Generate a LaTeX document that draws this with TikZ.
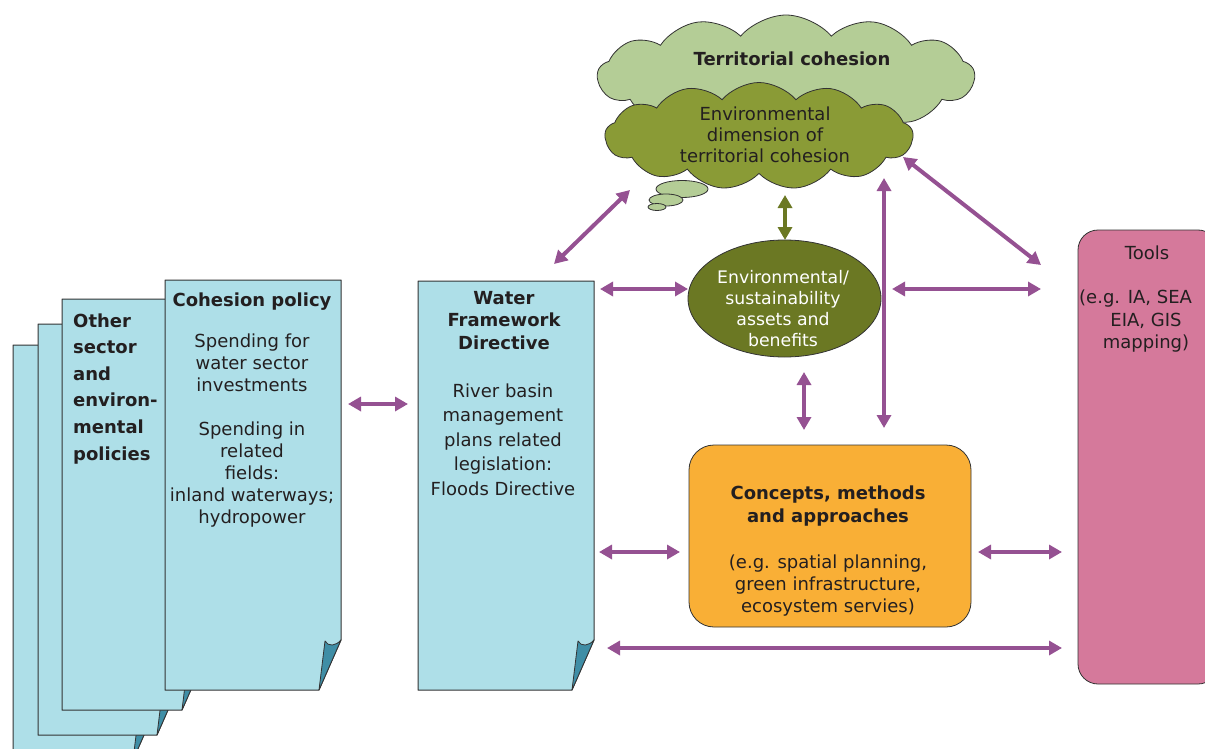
\documentclass[tikz,border=0pt]{standalone}
\usepackage{fontspec}
\setmainfont{DejaVu Sans}
\usetikzlibrary{shapes.symbols,shapes.geometric,arrows.meta}
\definecolor{pagefill}{HTML}{AEDFE8}
\definecolor{flapfill}{HTML}{3F8EA6}
\definecolor{lightcloud}{HTML}{B4CD96}
\definecolor{darkcloud}{HTML}{8A9B36}
\definecolor{olivefill}{HTML}{6B7823}
\definecolor{purp}{HTML}{955192}
\definecolor{orng}{HTML}{F9AF36}
\definecolor{pinkfill}{HTML}{D5799B}
\definecolor{txt}{HTML}{231F20}
\definecolor{edgecol}{HTML}{333333}
\newcommand\docpage[5]{%
  \filldraw[fill=pagefill,draw=edgecol,line width=1pt,line join=round]
    (#2,#3) -- (#4,#3) -- (#4,#5-50) -- (#4-22,#5) -- (#2,#5) -- cycle;
  \filldraw[fill=flapfill,draw=edgecol,line width=0.8pt,line join=round]
    (#4-22,#5) -- (#4-16,#5-49) .. controls (#4-13,#5-43) and (#4-5,#5-44) .. (#4,#5-50) -- cycle;
  \node[inner sep=0,minimum width={(#4-#2)*1pt},minimum height={(#5-#3)*1pt}] (#1) at ({(#2+#4)/2},{(#3+#5)/2}) {};
}
\tikzset{
  arr/.style={draw=purp,line width=4pt,{Triangle[length=13pt,width=14pt]}-{Triangle[length=13pt,width=14pt]}},
  oarr/.style={draw=olivefill,line width=4pt,{Triangle[length=13pt,width=14pt]}-{Triangle[length=13pt,width=14pt]}},
  body/.style={text=txt,align=center,anchor=base,inner sep=0,font=\fontsize{18}{22}\selectfont},
  head/.style={text=txt,align=center,anchor=base,inner sep=0,font=\fontsize{18}{22.5}\selectfont\bfseries},
  cloudbox/.style={cloud,cloud puffs=13,cloud puff arc=100,cloud ignores aspect,inner sep=0,draw=edgecol,line width=0.8pt},
}
\begin{document}
\begin{tikzpicture}[x=1pt,y=-1pt]
\useasboundingbox (0,0) rectangle (1205,749);
\clip (0,0) rectangle (1205,749);

% stacked pages
\docpage{p4}{13}{345}{155}{760}
\docpage{p3}{38}{324}{179}{735}
\docpage{p2}{62}{299}{204}{710}
\docpage{coh}{165}{280}{341}{690}
\docpage{wfd}{418}{281}{594}{690}

% (anchor=base is the baseline of the last line)
\node[text=txt,align=left,anchor=base west,inner sep=0,font=\fontsize{18}{26.6}\selectfont\bfseries] (othertxt) at (73,460)
  {Other\\sector\\and\\environ-\\mental\\policies};
\node[head] (cohhead) at (252,306) {Cohesion policy};
\node[body] (cohbody) at (252,523) {Spending for\\water sector\\investments\\[22pt]Spending in\\related\\fields:\\inland waterways;\\hydropower};
\node[head] (wfdhead) at (504,349) {Water\\Framework\\Directive};
\node[body,font=\fontsize{18}{24.5}\selectfont] (wfdbody) at (503,495) {River basin\\management\\plans related\\legislation:\\Floods Directive};

% clouds
\node[cloudbox,minimum width=377,minimum height=122,fill=lightcloud] (tc) at (786,76) {};
\node[cloudbox,minimum width=308,minimum height=107,fill=darkcloud] (edc) at (759,136) {};
\node[ellipse,minimum width=52,minimum height=17,inner sep=0,fill=lightcloud,draw=edgecol,line width=0.8pt] (b1) at (682,189) {};
\node[ellipse,minimum width=34,minimum height=12,inner sep=0,fill=lightcloud,draw=edgecol,line width=0.8pt] (b2) at (666,200) {};
\node[ellipse,minimum width=18,minimum height=7,inner sep=0,fill=lightcloud,draw=edgecol,line width=0.8pt] (b3) at (657,207) {};
\node[head] (tctxt) at (792,66) {Territorial cohesion};
\node[body,font=\fontsize{18}{21}\selectfont] (edctxt) at (765,163) {Environmental\\dimension of\\territorial cohesion};

% ellipse
\node[ellipse,minimum width=193,minimum height=117,inner sep=0,fill=olivefill,draw=edgecol,line width=0.8pt] (esa) at (784.5,298.5) {};
\node[body,text=white,font=\fontsize{17.3}{21}\selectfont] (esatxt) at (783,346) {Environmental/\\sustainability\\assets and\\benefits};

% concepts box
\node[rectangle,rounded corners=25,minimum width=282,minimum height=182,inner sep=0,fill=orng,draw=edgecol,line width=0.8pt] (cma) at (830,536) {};
\node[head,font=\fontsize{18}{23}\selectfont\bfseries] (cmahead) at (828,522) {Concepts, methods\\and approaches};
\node[body] (cmabody) at (828,612) {(e.g. spatial planning,\\green infrastructure,\\ecosystem servies)};

% tools box
\node[rectangle,rounded corners=20,minimum width=140,minimum height=454,inner sep=0,fill=pinkfill,draw=edgecol,line width=0.8pt] (tools) at (1148,457) {};
\node[body] (toolshead) at (1147,259) {Tools};
\node[text=txt,anchor=base west,inner sep=0,font=\fontsize{18}{22}\selectfont] (toolsl1) at (1079,303) {(e.g. IA, SEA};
\node[body] (toolsl2) at (1146,348) {EIA, GIS\\mapping)};

% connector end points
\coordinate (c1a) at (348,404); \coordinate (c1b) at (408,404);
\coordinate (c2a) at (600,289); \coordinate (c2b) at (688,289);
\coordinate (c3a) at (554,264); \coordinate (c3b) at (630,190);
\coordinate (c4a) at (785,195); \coordinate (c4b) at (785,240);
\coordinate (c5a) at (884,178); \coordinate (c5b) at (884,428);
\coordinate (c6a) at (903,157); \coordinate (c6b) at (1041,265);
\coordinate (c7a) at (892,289); \coordinate (c7b) at (1041,289);
\coordinate (c8a) at (804,372); \coordinate (c8b) at (804,430);
\coordinate (c9a) at (599,552); \coordinate (c9b) at (680,552);
\coordinate (c10a) at (978,552); \coordinate (c10b) at (1062,552);
\coordinate (c11a) at (607,648); \coordinate (c11b) at (1062,648);

\draw[arr] (c1a) -- (c1b);
\draw[arr] (c2a) -- (c2b);
\draw[arr] (c3a) -- (c3b);
\draw[oarr] (c4a) -- (c4b);
\draw[arr] (c5a) -- (c5b);
\draw[arr] (c6a) -- (c6b);
\draw[arr] (c7a) -- (c7b);
\draw[arr] (c8a) -- (c8b);
\draw[arr] (c9a) -- (c9b);
\draw[arr] (c10a) -- (c10b);
\draw[arr] (c11a) -- (c11b);
\end{tikzpicture}
\end{document}
